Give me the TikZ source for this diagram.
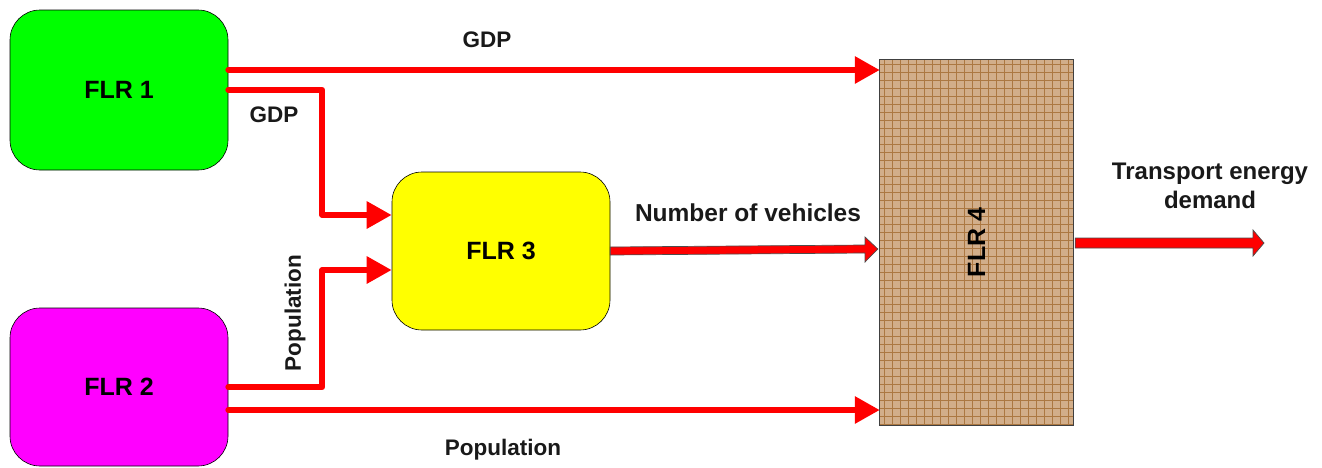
\documentclass[tikz,border=0pt]{standalone}
\usepackage{fontspec}
\setmainfont{Liberation Sans}
\usetikzlibrary{arrows.meta,calc}
\definecolor{tanbase}{RGB}{210,174,138}
\definecolor{tangrid}{RGB}{172,120,66}
\definecolor{txtdark}{RGB}{25,25,25}
\definecolor{flrgreen}{RGB}{0,255,0}
\definecolor{flrmagenta}{RGB}{255,0,255}
\definecolor{flryellow}{RGB}{255,255,0}
\begin{document}
\begin{tikzpicture}[x=1pt,y=-1pt,
  flr/.style={draw=black, line width=0.6pt, rounded corners=30pt, minimum width=218pt, font=\bfseries\fontsize{25}{30}\selectfont},
  lbl/.style={font=\bfseries\fontsize{22.5}{28}\selectfont, text=txtdark, inner sep=0pt},
  flow/.style={red, line width=6pt, line cap=round, line join=round, -{Triangle[length=25pt,width=26pt]}},
  blk/.style={fill=red, draw=black!70, line width=0.7pt, line join=miter}]
\useasboundingbox (0,0) rectangle (1322,467);

% boxes
\node[flr, fill=flrgreen, minimum height=160pt] (f1) at (119,90) {FLR 1};
\node[flr, fill=flrmagenta, minimum height=158pt] (f2) at (119,387) {FLR 2};
\node[flr, fill=flryellow, minimum height=158pt] (f3) at (501,251) {FLR 3};

% FLR 4 textured box
\node[minimum width=193pt, minimum height=365pt, inner sep=0pt, fill=tanbase] (f4) at (976.5,242.5) {};
\begin{scope}
  \clip (f4.south west) rectangle (f4.north east);
  \foreach \x in {0,...,24} \draw[tangrid, line width=0.9pt] (884.5+8*\x,60) -- ++(0,365);
  \foreach \y in {0,...,45} \draw[tangrid, line width=0.9pt] (880,64.5+8*\y) -- ++(193,0);
\end{scope}
\draw[black!75, line width=0.8pt] (f4.south west) rectangle (f4.north east);
\node[rotate=90, font=\bfseries\fontsize{25}{30}\selectfont] (f4t) at (f4.center) {FLR 4};

% connectors
\draw[flow] ($(f1.east)+(0,-20)$) coordinate (g1) -- (g1 -| f4.west);
\draw[flow] (f1.east) -- ++(94,0) |- ($(f3.west)+(0,-36)$);
\draw[flow] (f2.east) -- ++(94,0) |- ($(f3.west)+(0,19)$);
\draw[flow] ($(f2.east)+(0,23)$) coordinate (p1) -- (p1 -| f4.west);

% block arrows
\draw[blk] ($(f3.east)+(0,-4)$) -- (865,245) -- (865,237) -- ($(f4.west)+(-2,6.5)$) -- (865,262) -- (865,253) -- ($(f3.east)+(0,4)$) -- cycle;
\coordinate (tend) at (1264,243);
\draw[blk] ($(f4.east)+(2,-4.5)$) -- (1253,238) -- (1253,230) -- (tend) -- (1253,256) -- (1253,248) -- ($(f4.east)+(2,5.5)$) -- cycle;

% labels
\node[lbl] (gdp1) at (487,40) {GDP};
\node[lbl] (gdp2) at (274,115) {GDP};
\node[lbl, font=\bfseries\fontsize{24.5}{28}\selectfont] (nv) at (748,213) {Number of vehicles};
\node[lbl, rotate=90] (pop1) at (295,313) {Population};
\node[lbl] (pop2) at (503,450) {Population};
\node[lbl, align=center, font=\bfseries\fontsize{24}{29}\selectfont] (ted) at (1210,186) {Transport energy\\demand};
\end{tikzpicture}
\end{document}
